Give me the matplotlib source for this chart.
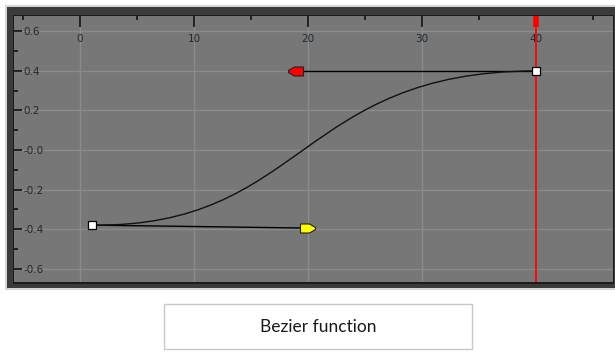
import matplotlib
matplotlib.use("Agg")
import matplotlib.pyplot as plt
from matplotlib.patches import Rectangle, PathPatch
from matplotlib.path import Path
from matplotlib.ticker import FixedLocator, FixedFormatter, MultipleLocator

# key points of the bezier curve (data units)
start_pt = (1.0, -0.38)
start_handle = (19.7, -0.395)
end_handle = (19.1, 0.40)
end_pt = (40.0, 0.40)
cursor_x = 40.0

x_ticks = [0, 10, 20, 30, 40]
x_labels = ["0", "10", "20", "30", "40"]
y_ticks = [0.6, 0.4, 0.2, 0.0, -0.2, -0.4, -0.6]
y_labels = ["0.6", "0.4", "0.2", "-0.0", "-0.2", "-0.4", "-0.6"]
caption = "Bezier function"

W, H = 615, 358


def fig_rect(x0, y0, x1, y1):
    # pixel box (top-left origin) -> figure fraction [l, b, w, h]
    return [x0 / W, 1 - y1 / H, (x1 - x0) / W, (y1 - y0) / H]


fig = plt.figure(figsize=(W / 100, H / 100), dpi=100)
fig.patch.set_facecolor("white")

# window frame layers
for (x0, y0, x1, y1), col in [
    ((5, 5, 615, 290), "#d6d6d6"),
    ((7, 7, 615, 288), "#3b3b3b"),
    ((13, 15, 614, 284), "#1c1c1c"),
]:
    l, b, w, h = fig_rect(x0, y0, x1, y1)
    fig.patches.append(Rectangle((l, b), w, h, transform=fig.transFigure,
                                 facecolor=col, edgecolor="none", zorder=-2))

ax = fig.add_axes(fig_rect(14, 16, 613, 282))
ax.set_facecolor("#777777")
ax.set_xlim(-5.8, 46.75)
ax.set_ylim(-0.668, 0.678)
for sp in ax.spines.values():
    sp.set_visible(False)

ax.xaxis.tick_top()
ax.xaxis.set_major_locator(FixedLocator(x_ticks))
ax.xaxis.set_major_formatter(FixedFormatter(x_labels))
ax.xaxis.set_minor_locator(MultipleLocator(5))
ax.yaxis.set_major_locator(FixedLocator(y_ticks))
ax.yaxis.set_major_formatter(FixedFormatter(y_labels))
ax.yaxis.set_minor_locator(MultipleLocator(0.1))

tick_col = "#111111"
lab_col = "#1f2a36"
ax.tick_params(axis="x", which="major", direction="in", length=8, width=1.2,
               color=tick_col, pad=-20, labelsize=7.5, labelcolor=lab_col)
ax.tick_params(axis="x", which="minor", direction="in", length=3, width=1.2,
               color=tick_col)
ax.tick_params(axis="y", which="major", direction="in", length=6, width=1.2,
               color=tick_col, pad=-6.5, labelsize=7.5, labelcolor=lab_col)
ax.tick_params(axis="y", which="minor", direction="in", length=3, width=1.2,
               color=tick_col)
for lab in ax.get_yticklabels():
    lab.set_horizontalalignment("left")

ax.grid(True, which="major", color="#8b8b8b", linewidth=1.0)
ax.set_axisbelow(True)

# red time cursor
ax.axvline(cursor_x, color="#ff0000", linewidth=1.3, zorder=3)
ax.plot([cursor_x, cursor_x], [0.678, 0.62], color="#ff0000",
        linewidth=4, solid_capstyle="butt", zorder=3, clip_on=False)

# tangent handles
ax.plot([start_pt[0], start_handle[0]], [start_pt[1], start_handle[1]],
        color="black", linewidth=1.0, zorder=4)
ax.plot([end_pt[0], end_handle[0]], [end_pt[1], end_handle[1]],
        color="black", linewidth=1.0, zorder=4)

# the curve itself, drawn as a cubic bezier path
curve = Path([start_pt, start_handle, end_handle, end_pt],
             [Path.MOVETO, Path.CURVE4, Path.CURVE4, Path.CURVE4])
ax.add_patch(PathPatch(curve, facecolor="none", edgecolor="#111111",
                       linewidth=1.0, zorder=4))

# handle arrow markers
arrow_r = Path([(5, 4.5), (5, -4.5), (-4, -4.5), (-10, -1), (-10, 1),
                (-4, 4.5), (5, 4.5)], closed=True)
arrow_l = Path([(-5, 4.5), (-5, -4.5), (4, -4.5), (10, -1), (10, 1),
                (4, 4.5), (-5, 4.5)], closed=True)
ax.plot(*end_handle, marker=arrow_r, markersize=14.4, markerfacecolor="#ff0000",
        markeredgecolor="#222222", markeredgewidth=0.8, zorder=6)
ax.plot(*start_handle, marker=arrow_l, markersize=14.4,
        markerfacecolor="#ffff00", markeredgecolor="#222222",
        markeredgewidth=0.8, zorder=6)

# key squares
ax.plot([start_pt[0], end_pt[0]], [start_pt[1], end_pt[1]], linestyle="none",
        marker="s", markersize=5.5, markerfacecolor="white",
        markeredgecolor="black", markeredgewidth=0.9, zorder=7)

# caption box
l, b, w, h = fig_rect(164, 304, 472, 349)
fig.patches.append(Rectangle((l, b), w, h, transform=fig.transFigure,
                             facecolor="white", edgecolor="#c8c8c8",
                             linewidth=1.0, zorder=1))
fig.text(318 / W, 1 - 327 / H, caption, ha="center", va="center",
         fontsize=12.5, family="Lato", color="#1a1a1a")

fig.savefig("out.png", dpi=100, facecolor="white")
